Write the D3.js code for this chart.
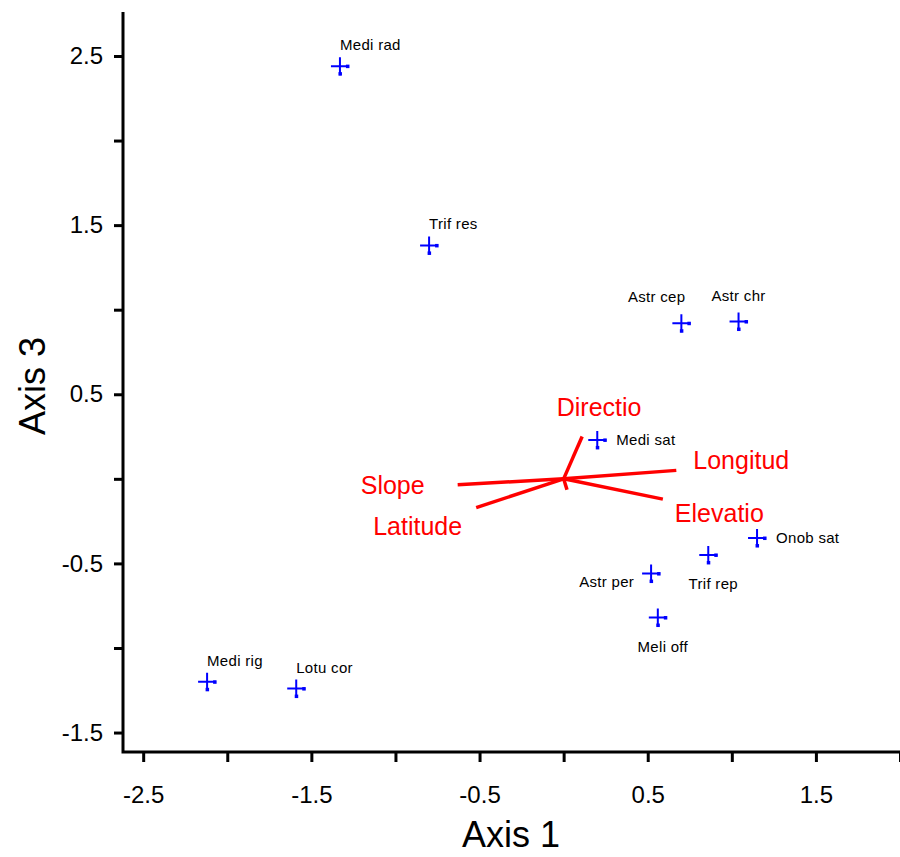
<!DOCTYPE html>
<html>
<head>
<meta charset="utf-8">
<script src="https://cdn.jsdelivr.net/npm/d3@7"></script>
<style>
  body { margin: 0; background: #fff; }
  svg text { font-family: "Liberation Sans", Arial, sans-serif; }
</style>
</head>
<body>
<svg width="900" height="857"></svg>
<script>
// specie (punti)
var specie = ["Medi rad", "Trif res", "Astr cep", "Astr chr", "Medi sat", "Onob sat",
              "Trif rep", "Astr per", "Meli off", "Medi rig", "Lotu cor"];
var asse1 = [-1.33, -0.80, 0.70, 1.04, 0.20, 1.15, 0.86, 0.52, 0.56, -2.12, -1.59];
var asse3 = [2.44, 1.38, 0.92, 0.93, 0.23, -0.35, -0.45, -0.56, -0.82, -1.20, -1.24];
// dove mettere l'etichetta rispetto al punto
var lato = ["n", "n", "nw", "nc", "e", "e", "s", "w", "s", "n", "n"];

// variabili ambientali (vettori)
var variabili = ["Directio", "Longitud", "Elevatio", "Slope", "Latitude", ""];
var vett1 = [0.11, 0.67, 0.59, -0.63, -0.52, 0.02];
var vett3 = [0.25, 0.05, -0.12, -0.035, -0.17, -0.065];
var latoVett = ["n", "e", "se", "w", "sw", ""];

// tick
var ticks = [-2.5, -2, -1.5, -1, -0.5, 0, 0.5, 1, 1.5, 2, 2.5];
var tickLabX = [-2.5, -1.5, -0.5, 0.5, 1.5];
var tickLabY = [-1.5, -0.5, 0.5, 1.5, 2.5];

var svg = d3.select("svg"),
    m_sx = 123, m_dx = 900, m_su = 12, m_giu = 752;

var x = d3.scaleLinear().domain([-2.62, 2.0]).range([m_sx, m_dx]);
var y = d3.scaleLinear().domain([-1.615, 2.76]).range([m_giu, m_su]);

function etichetta(lista) {
  return function(d) {
    return lista.indexOf(d) >= 0 ? d3.format(".1f")(d).replace("\u2212", "-") : "";
  };
}

// ASSI
var ax = svg.append("g").attr("transform", "translate(0," + m_giu + ")")
  .call(d3.axisBottom(x).tickValues(ticks.filter(function(t){ return t >= -2.62 && t <= 2.0; }))
    .tickSize(10).tickSizeOuter(0).tickPadding(24)
    .tickFormat(etichetta(tickLabX)));
var ay = svg.append("g").attr("transform", "translate(" + m_sx + ",0)")
  .call(d3.axisLeft(y).tickValues(ticks.filter(function(t){ return t >= -1.615 && t <= 2.76; }))
    .tickSize(9).tickSizeOuter(0).tickPadding(11)
    .tickFormat(etichetta(tickLabY)));

[ax, ay].forEach(function(a){
  a.select(".domain").remove();
  a.selectAll(".tick line").attr("stroke", "#000").attr("stroke-width", 3);
  a.selectAll(".tick text").attr("fill", "#000").style("font-size", "24px");
});

svg.append("path")
  .attr("d", "M" + m_sx + "," + m_su + "V" + m_giu + "H" + m_dx)
  .attr("fill", "none").attr("stroke", "#000").attr("stroke-width", 3);

svg.append("text").text("Axis 1")
  .attr("x", 511).attr("y", 847).attr("text-anchor", "middle")
  .style("font-size", "36px").attr("fill", "#000");
svg.append("text").text("Axis 3")
  .attr("transform", "translate(45,386) rotate(-90)").attr("text-anchor", "middle")
  .style("font-size", "36px").attr("fill", "#000");

// VETTORI
var vettori = svg.append("g");
variabili.forEach(function(v, i){
  var x1 = x(vett1[i]), y1 = y(vett3[i]);
  vettori.append("line")
    .attr("x1", x(0)).attr("y1", y(0)).attr("x2", x1).attr("y2", y1)
    .attr("stroke", "#ff0000").attr("stroke-width", 3.5);
  if (v === "") return;
  var dx = 0, dy = 0, anchor = "start";
  if (latoVett[i] == "n") { dx = 17; dy = -21; anchor = "middle"; }
  if (latoVett[i] == "e") { dx = 17; dy = -1; }
  if (latoVett[i] == "se") { dx = 12; dy = 23; }
  if (latoVett[i] == "w") { dx = -33; dy = 9; anchor = "end"; }
  if (latoVett[i] == "sw") { dx = -14; dy = 27; anchor = "end"; }
  vettori.append("text").text(v)
    .attr("x", x1 + dx).attr("y", y1 + dy).attr("text-anchor", anchor)
    .style("font-size", "25px").attr("fill", "#ff0000");
});

// PUNTI
var punti = svg.append("g");
specie.forEach(function(s, i){
  var cx = x(asse1[i]), cy = y(asse3[i]);
  var g = punti.append("g").attr("transform", "translate(" + cx + "," + cy + ")");
  g.append("path").attr("d", "M-9,0H9M0,-9V9")
    .attr("stroke", "#0000ff").attr("stroke-width", 2).attr("fill", "none");
  g.append("rect").attr("x", 6).attr("y", -1.5).attr("width", 3.5).attr("height", 3.5).attr("fill", "#0000ff");
  g.append("rect").attr("x", -1.5).attr("y", 6).attr("width", 3.5).attr("height", 3.5).attr("fill", "#0000ff");

  var dx = 0, dy = -16, anchor = "start";
  if (lato[i] == "nw") { dx = 4; anchor = "end"; dy = -21; }
  if (lato[i] == "nc") { anchor = "middle"; dy = -21; }
  if (lato[i] == "e") { dx = 19; dy = 5; }
  if (lato[i] == "s") { dx = 5; dy = 34; anchor = "middle"; }
  if (lato[i] == "w") { dx = -17; dy = 13; anchor = "end"; }
  punti.append("text").text(s)
    .attr("x", cx + dx).attr("y", cy + dy).attr("text-anchor", anchor)
    .style("font-size", "15px").style("letter-spacing", "0.3px").attr("fill", "#000");
});
</script>
</body>
</html>
